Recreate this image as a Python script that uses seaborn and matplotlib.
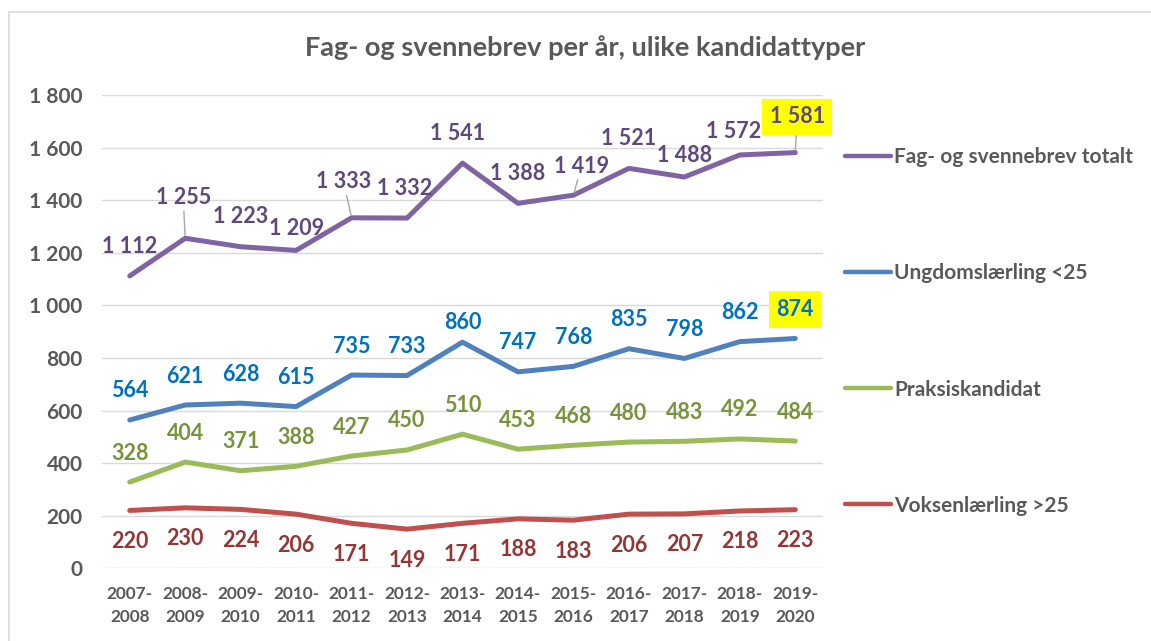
import matplotlib
matplotlib.use("Agg")
import matplotlib.pyplot as plt
import seaborn as sns
import pandas as pd
from matplotlib.lines import Line2D

# ---- data ----
periods = ["2007-\n2008", "2008-\n2009", "2009-\n2010", "2010-\n2011", "2011-\n2012",
           "2012-\n2013", "2013-\n2014", "2014-\n2015", "2015-\n2016", "2016-\n2017",
           "2017-\n2018", "2018-\n2019", "2019-\n2020"]
series_names = ["Fag- og svennebrev totalt", "Ungdomslærling <25", "Praksiskandidat", "Voksenlærling >25"]
totalt = [1112, 1255, 1223, 1209, 1333, 1332, 1541, 1388, 1419, 1521, 1488, 1572, 1581]
ungdom = [564, 621, 628, 615, 735, 733, 860, 747, 768, 835, 798, 862, 874]
praksis = [328, 404, 371, 388, 427, 450, 510, 453, 468, 480, 483, 492, 484]
voksen = [220, 230, 224, 206, 171, 149, 171, 188, 183, 206, 207, 218, 223]
y_ticks = [0, 200, 400, 600, 800, 1000, 1200, 1400, 1600, 1800]
title = "Fag- og svennebrev per år, ulike kandidattyper"

# ---- styles ----
line_colors = ["#8064A2", "#4F81BD", "#9BBB59", "#C0504D"]
label_colors = ["#5F497A", "#0070C0", "#77933C", "#943634"]
grey = "#595959"

sns.set_theme(style="white")
plt.rcParams["font.family"] = ["Lato", "DejaVu Sans"]
plt.rcParams["font.weight"] = "bold"

all_values = [totalt, ungdom, praksis, voksen]
df = pd.concat([
    pd.DataFrame({"Periode": periods, "Antall": vals, "Serie": name})
    for name, vals in zip(series_names, all_values)
], ignore_index=True)

fig = plt.figure(figsize=(11.51, 6.41), dpi=100)
W, H = 1151, 641
ax = fig.add_axes([102 / W, 1 - 568.3 / H, 721 / W, (568.3 - 95) / H])

sns.lineplot(data=df, x="Periode", y="Antall", hue="Serie", palette=line_colors,
             sort=False, linewidth=3.6, ax=ax, legend=True)

ax.set_xlim(-0.5, len(periods) - 0.5)
ax.set_ylim(0, 1800)
ax.set_yticks(y_ticks)
ax.set_yticklabels([f"{v:,}".replace(",", " ") for v in y_ticks])
ax.grid(axis="y", color="#D9D9D9", linewidth=1)
ax.grid(axis="x", visible=False)
for s in ax.spines.values():
    s.set_visible(False)
ax.tick_params(axis="y", length=0, pad=14, labelsize=15, labelcolor=grey)
ax.tick_params(axis="x", length=0, pad=13, labelsize=12.4, labelcolor=grey)
for t in ax.get_xticklabels():
    t.set_linespacing(1.5)
    t.set_fontweight("bold")
for t in ax.get_yticklabels():
    t.set_fontweight("bold")
ax.set_xlabel("")
ax.set_ylabel("")

# ---- data labels (offsets in pixels: dx, dy up) ----
offs_tot = [(0, 29), (-2, 41), (0, 30), (0, 22), (-8, 36), (-2, 30), (-5, 30),
            (0, 30), (8, 29), (0, 30), (0, 22), (-6, 23), (2, 36)]
leader_tot = [False, True, False, False, True, False, False, False, True, False, False, False, True]
offs_ung = [(0, 29)] * 6 + [(0, 20)] + [(0, 29)] * 6
offs_pra = [(0, 29)] * 13
offs_vok = [(0, -31)] * 13
all_offs = [offs_tot, offs_ung, offs_pra, offs_vok]
highlight = {(0, 12), (1, 12)}

for si, (vals, offs) in enumerate(zip(all_values, all_offs)):
    for i, v in enumerate(vals):
        dx, dy = offs[i]
        kw = dict(textcoords="offset pixels", ha="center", va="center",
                  fontsize=15.5, fontweight="bold", color=label_colors[si])
        if (si, i) in highlight:
            kw["bbox"] = dict(boxstyle="square,pad=0.35", fc="#FFFF00", ec="none")
        if si == 0 and leader_tot[i]:
            kw["arrowprops"] = dict(arrowstyle="-", color="#A6A6A6", lw=1,
                                    shrinkA=0, shrinkB=2)
        ax.annotate(f"{v:,}".replace(",", " "), xy=(i, v), xytext=(dx, dy), **kw)

# ---- legend ----
handles, labels = ax.get_legend_handles_labels()
ax.get_legend().remove()
for h in handles:
    h.set_linewidth(3.2)
fig.legend(handles, labels, loc="upper left", bbox_to_anchor=(845 / W, 1 - 147 / H),
           frameon=False, labelcolor=grey, handlelength=2.2,
           handletextpad=0.15, labelspacing=4.62, borderpad=0, borderaxespad=0,
           prop={"weight": "bold", "size": 15})

# ---- title ----
fig.text(585 / W, 1 - 48 / H, title, ha="center", va="center", fontsize=19.5,
         fontweight="bold", color=grey)

# ---- outer frame ----
fig.add_artist(Line2D([9 / W, 1], [1 - 12 / H, 1 - 12 / H], color="#D9D9D9", lw=1.2))
fig.add_artist(Line2D([9 / W, 9 / W], [0, 1 - 12 / H], color="#D9D9D9", lw=1.2))

fig.savefig("out.png", dpi=100)
